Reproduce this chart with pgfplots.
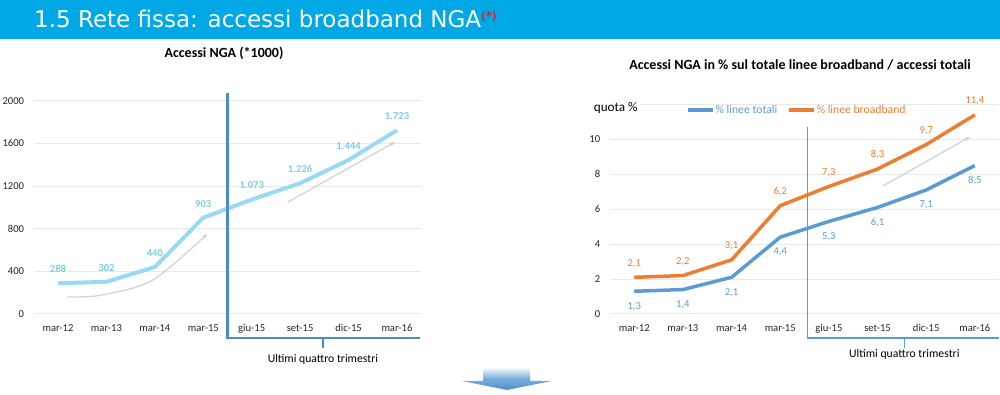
\documentclass[border=0pt]{standalone}
\usepackage{pgfplots}
\usepackage{pgfplotstable}
\pgfplotsset{compat=1.18}
\usepackage{fontspec}
\setmainfont{Carlito}
\newfontfamily\dejavu{DejaVu Sans}
\usetikzlibrary{arrows.meta}

\definecolor{band}{HTML}{00A9E6}
\definecolor{cyanline}{HTML}{96DBF3}
\definecolor{cyanlab}{HTML}{7CCDEA}
\definecolor{bl}{HTML}{5B9BD5}
\definecolor{br}{HTML}{4A8CC8}
\definecolor{org}{HTML}{ED7D31}
\definecolor{gridc}{HTML}{E9E9E9}
\definecolor{arr}{HTML}{D4D4D4}

\pgfplotstableread{
x y lab
0 288 288
1 302 302
2 440 440
3 903 903
4 1073 1.073
5 1226 1.226
6 1444 1.444
7 1723 1.723
}\tabA

\pgfplotstableread{
x tot totlab bb bblab
0 1.3 1,3 2.1 2,1
1 1.4 1,4 2.2 2,2
2 2.1 2,1 3.1 3,1
3 4.4 4,4 6.2 6,2
4 5.3 5,3 7.3 7,3
5 6.1 6,1 8.3 8,3
6 7.1 7,1 9.7 9,7
7 8.5 8,5 11.4 11,4
}\tabB

\pgfplotsset{
  base/.style={
    scale only axis, clip=false,
    axis line style={draw=none}, tick style={draw=none},
    ymajorgrids, grid style={gridc, line width=1pt},
    xmin=-0.5, xmax=7.5,
    xtick={0,...,7},
    xticklabels={mar-12,mar-13,mar-14,mar-15,giu-15,set-15,dic-15,mar-16},
    tick label style={font=\fontsize{10.6}{12}\selectfont, text=black!85},
    /pgf/number format/assume math mode=true,
    /pgf/number format/1000 sep={},
    xticklabel style={anchor=base, yshift=-17.3pt},
    yticklabel style={anchor=east, inner sep=0pt, xshift=-9.5pt},
  },
  lab/.style={nodes near coords, point meta=explicit symbolic,
    every node near coord/.append style={anchor=center, yshift=#1,
      font=\fontsize{10.6}{12}\selectfont}},
}

\begin{document}
\begin{tikzpicture}[x=1pt,y=1pt]
\path[use as bounding box] (0,0) rectangle (1000,395);
% header band
\fill[band] (0,356) rectangle (1000,395);
\node[anchor=base west, text=white, inner sep=0pt] at (34,367)
  {\dejavu\fontsize{23}{26}\selectfont 1.5 Rete fissa: accessi broadband NGA\raisebox{7pt}{\fontsize{12}{14}\selectfont\textcolor{red}{(*)}}};

% chart titles
\node[font=\bfseries\fontsize{14}{16}\selectfont] at (224,342) {Accessi NGA (*1000)};
\node[font=\bfseries\fontsize{14}{16}\selectfont] at (800,330) {Accessi NGA in \% sul totale linee broadband / accessi totali};

% left chart
\begin{axis}[base, at={(33.8pt,81pt)}, anchor=south west,
  width=387.4pt, height=213.3pt, ymin=0, ymax=2000, ytick={0,400,...,2000}]
\addplot[arr, line width=1.3pt, smooth, -{Stealth[length=6pt,width=5pt]}, forget plot]
  coordinates {(0.19,159) (0.91,178) (1.96,319) (3.08,750)};
\addplot[arr, line width=1.3pt, -{Stealth[length=6pt,width=5pt]}, forget plot]
  coordinates {(4.75,1050) (6.96,1613)};
\addplot[cyanline, line width=4pt, line join=round, lab=14pt,
  every node near coord/.append style={text=cyanlab, font=\bfseries\fontsize{10.6}{12}\selectfont}]
  table[x=x, y=y, meta=lab] {\tabA};
\draw[br, line width=2.2pt] (axis cs:3.5,2072) -- (axis cs:3.5,-225) -- (axis cs:7.47,-225);
\draw[br, line width=1.5pt] (axis cs:5.47,-225) -- (axis cs:5.47,-319);
\node[font=\fontsize{11.7}{14}\selectfont] at (axis cs:5.47,-422) {Ultimi quattro trimestri};
\end{axis}

% right chart
\begin{axis}[base, at={(609.9pt,81pt)}, anchor=south west,
  width=389.3pt, height=209.6pt, ymin=0, ymax=12, ytick={0,2,...,12},
  yticklabels={0,2,4,6,8,10,{}},
  legend style={at={(0.1955,0.973)}, anchor=west, draw=none, fill=none,
    inner sep=0pt, font=\fontsize{11.7}{14}\selectfont,
    nodes={inner sep=1pt},
    /tikz/every even column/.append style={column sep=9pt}},
  legend columns=2,
  legend image code/.code={\draw[#1, line width=3.5pt] (0pt,0pt) -- (25pt,0pt);}]
\addplot[arr, line width=1.3pt, -{Stealth[length=6pt,width=5pt]}, forget plot]
  coordinates {(5.11,7.33) (6.9,10.14)};
\addplot[bl, line width=3.5pt, line join=round, lab=-15pt,
  every node near coord/.append style={text=bl}]
  table[x=x, y=tot, meta=totlab] {\tabB};
\addlegendentry{\textcolor{bl}{\% linee totali}}
\addplot[org, line width=3.5pt, line join=round, lab=14pt,
  every node near coord/.append style={text=org}]
  table[x=x, y=bb, meta=bblab] {\tabB};
\addlegendentry{\textcolor{org}{\% linee broadband}}
\node[fill=white, inner sep=2pt, font=\fontsize{13.2}{15}\selectfont] at (axis cs:-0.38,11.78) {quota \%};
\draw[bl, line width=1.5pt] (axis cs:3.56,10.72) -- (axis cs:3.56,-1.36) -- (axis cs:7.5,-1.36);
\draw[bl, line width=1.3pt] (axis cs:5.55,-1.36) -- (axis cs:5.55,-1.95);
\node[font=\fontsize{11.7}{14}\selectfont] at (axis cs:5.55,-2.29) {Ultimi quattro trimestri};
\end{axis}

% down arrow
\shade[top color=white, bottom color=bl] (483,28) rectangle (530,14);
\shade[top color=bl!85, bottom color=br] (462,14) -- (552,14) -- (507,5) -- cycle;
\end{tikzpicture}
\end{document}
